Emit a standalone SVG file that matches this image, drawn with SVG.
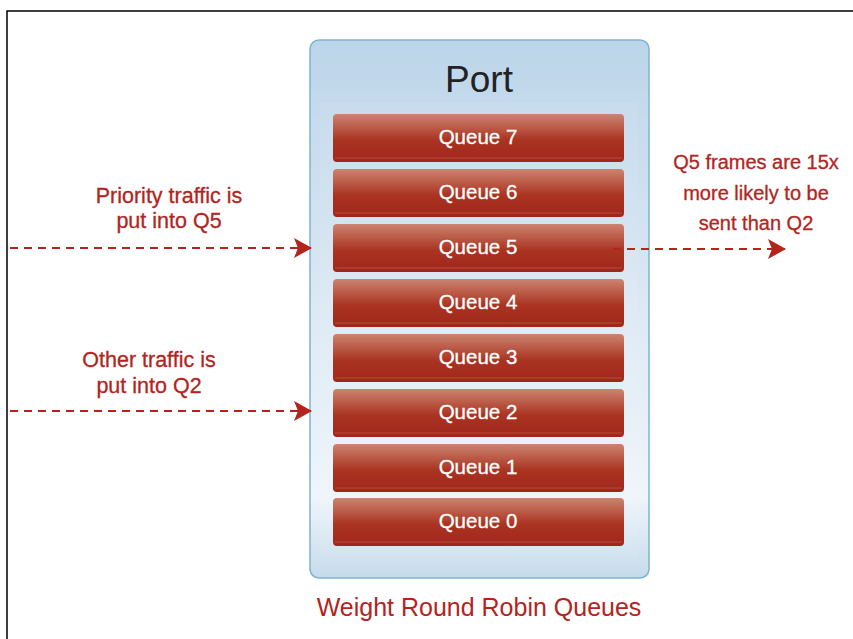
<svg xmlns="http://www.w3.org/2000/svg" width="853" height="639" viewBox="0 0 853 639">
<style>
.lbl{font-family:"Liberation Sans",Arial,sans-serif;font-size:21.5px;fill:#b3241d;text-anchor:middle;stroke:#b3241d;stroke-width:0.3}
.lblr{font-size:20px}
.q{font-family:"Liberation Sans",Arial,sans-serif;font-size:20.5px;fill:#ffffff;text-anchor:middle;stroke:#ffffff;stroke-width:0.3}
.conn{stroke:#b3241d;stroke-width:2;stroke-dasharray:8 6;fill:none}
</style>
<defs>
<linearGradient id="portg" x1="0" y1="0" x2="0" y2="1">
<stop offset="0" stop-color="#bcd5ea"/>
<stop offset="0.5" stop-color="#dde9f4"/>
<stop offset="0.85" stop-color="#eef5fb"/>
<stop offset="1" stop-color="#c6dbeb"/>
</linearGradient>
<linearGradient id="qg" x1="0" y1="0" x2="0" y2="1">
<stop offset="0" stop-color="#cc8470"/>
<stop offset="0.55" stop-color="#aa3321"/>
<stop offset="1" stop-color="#a0261b"/>
</linearGradient>
<marker id="ah" markerWidth="18" markerHeight="20" refX="17" refY="10" orient="auto" markerUnits="userSpaceOnUse">
<path d="M0,0 L18,10 L0,20 L4,10 Z" fill="#b3241d"/>
</marker>
<g id="queueShape">
<rect x="0" y="0" width="291" height="48" rx="4" fill="url(#qg)"/>
<line x1="2" y1="44" x2="289" y2="44" stroke="#c0604e" stroke-width="1" opacity="0.7"/>
</g>
</defs>
<rect width="853" height="639" fill="#ffffff"/>
<path d="M7,639 L7,11 L853,11" fill="none" stroke="#000" stroke-width="1.5"/>
<g id="port">
<rect x="310" y="40" width="339" height="538" rx="9" fill="url(#portg)" stroke="#7db3d3" stroke-width="1.5"/>
<rect x="320" y="102" width="318" height="461" fill="#ffffff" opacity="0.06"/>
<text x="479" y="92" font-family="'Liberation Sans',Arial,sans-serif" font-size="37" fill="#222" text-anchor="middle">Port</text>
</g>
<g id="queue7"><use href="#queueShape" x="333" y="114"/><text class="q" x="478" y="144">Queue 7</text></g>
<g id="queue6"><use href="#queueShape" x="333" y="169"/><text class="q" x="478" y="199">Queue 6</text></g>
<g id="queue5"><use href="#queueShape" x="333" y="224"/><text class="q" x="478" y="254">Queue 5</text></g>
<g id="queue4"><use href="#queueShape" x="333" y="279"/><text class="q" x="478" y="309">Queue 4</text></g>
<g id="queue3"><use href="#queueShape" x="333" y="334"/><text class="q" x="478" y="364">Queue 3</text></g>
<g id="queue2"><use href="#queueShape" x="333" y="389"/><text class="q" x="478" y="419">Queue 2</text></g>
<g id="queue1"><use href="#queueShape" x="333" y="444"/><text class="q" x="478" y="474">Queue 1</text></g>
<g id="queue0"><use href="#queueShape" x="333" y="498"/><text class="q" x="478" y="528">Queue 0</text></g>
<g id="connectors">
<line class="conn" x1="10" y1="248" x2="311" y2="248" marker-end="url(#ah)"/>
<line class="conn" x1="10" y1="411" x2="311" y2="411" marker-end="url(#ah)"/>
<line class="conn" x1="613" y1="249" x2="785" y2="249" marker-end="url(#ah)"/>
</g>
<g id="labels">
<text class="lbl" x="169" y="203">Priority traffic is</text>
<text class="lbl" x="169" y="228">put into Q5</text>
<text class="lbl" x="149" y="367">Other traffic is</text>
<text class="lbl" x="149" y="393">put into Q2</text>
<text class="lbl lblr" x="756" y="169">Q5 frames are 15x</text>
<text class="lbl lblr" x="756" y="200">more likely to be</text>
<text class="lbl lblr" x="756" y="230">sent than Q2</text>
<text x="479" y="616" font-family="'Liberation Sans',Arial,sans-serif" font-size="25" fill="#b3241d" text-anchor="middle">Weight Round Robin Queues</text>
</g>
</svg>
